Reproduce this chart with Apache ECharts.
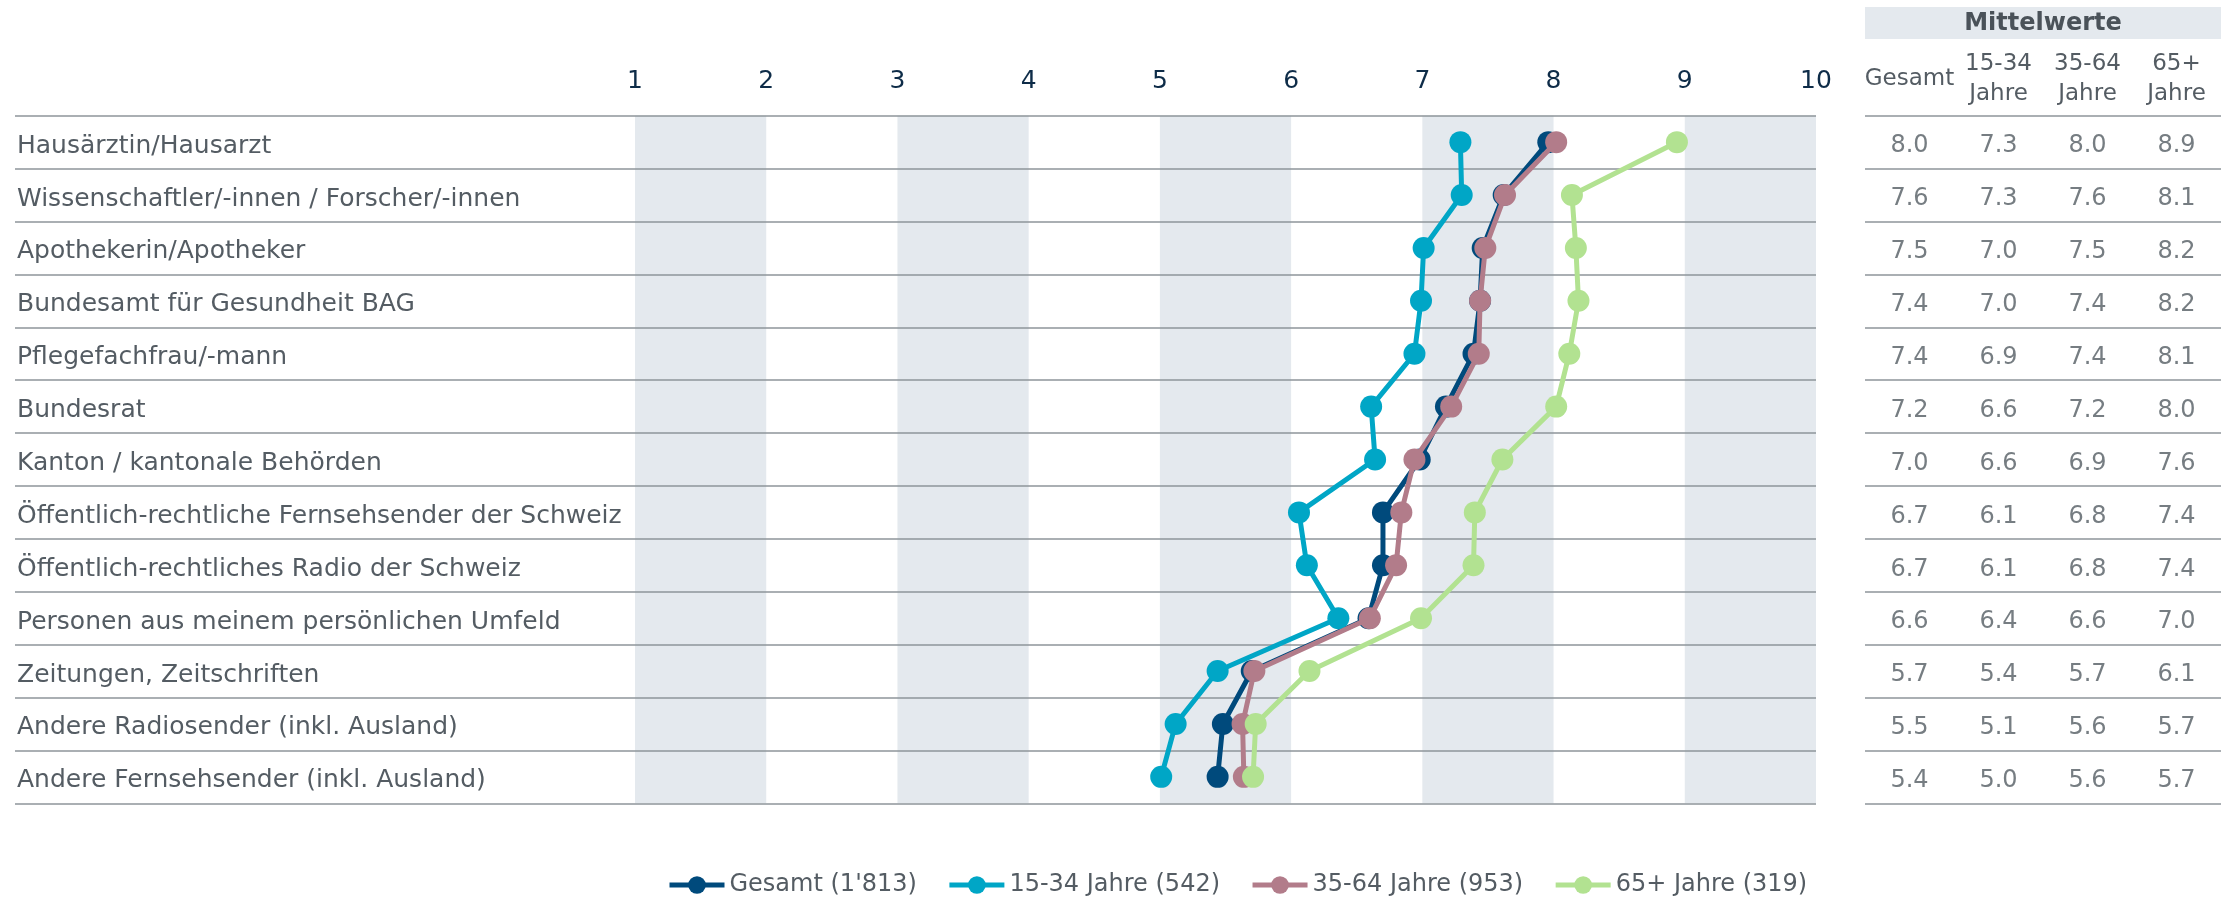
<!DOCTYPE html>
<html>
<head>
<meta charset="utf-8">
<script src="https://cdn.jsdelivr.net/npm/echarts@6/dist/echarts.min.js"></script>
<style>
html,body{margin:0;padding:0;background:#fff;}
#c{width:2226px;height:898px;}
</style>
</head>
<body>
<div id="c"></div>
<script>
var categories = [
  'Hausärztin/Hausarzt',
  'Wissenschaftler/-innen / Forscher/-innen',
  'Apothekerin/Apotheker',
  'Bundesamt für Gesundheit BAG',
  'Pflegefachfrau/-mann',
  'Bundesrat',
  'Kanton / kantonale Behörden',
  'Öffentlich-rechtliche Fernsehsender der Schweiz',
  'Öffentlich-rechtliches Radio der Schweiz',
  'Personen aus meinem persönlichen Umfeld',
  'Zeitungen, Zeitschriften',
  'Andere Radiosender (inkl. Ausland)',
  'Andere Fernsehsender (inkl. Ausland)'
];
var seriesNames = ["Gesamt (1'813)", '15-34 Jahre (542)', '35-64 Jahre (953)', '65+ Jahre (319)'];
var gesamt = [7.96, 7.62, 7.46, 7.44, 7.39, 7.18, 6.98, 6.70, 6.70, 6.59, 5.70, 5.48, 5.44];
var jahre1534 = [7.29, 7.30, 7.01, 6.99, 6.94, 6.61, 6.64, 6.06, 6.12, 6.36, 5.44, 5.12, 5.01];
var jahre3564 = [8.02, 7.63, 7.48, 7.44, 7.43, 7.22, 6.94, 6.84, 6.80, 6.60, 5.72, 5.63, 5.64];
var jahre65 = [8.94, 8.14, 8.17, 8.19, 8.12, 8.02, 7.61, 7.40, 7.39, 6.99, 6.14, 5.73, 5.71];
var tableColumns = ['Gesamt', '15-34\nJahre', '35-64\nJahre', '65+\nJahre'];
var tableTitle = 'Mittelwerte';

var colors = ['#004a7c', '#00a6c6', '#b27c8a', '#b2e291'];
var FONT = "'DejaVu Sans', sans-serif";
var TXT = '#545c63';
var LINE = '#8e949a';

var top0 = 115.7, h0 = 687.6;
var allSeries = [gesamt, jahre1534, jahre3564, jahre65];

var lineSeries = allSeries.map(function (vals, i) {
  return {
    name: seriesNames[i],
    type: 'line',
    xAxisIndex: 1, yAxisIndex: 1,
    data: vals.map(function (v, r) { return [v, categories[r]]; }),
    symbol: 'circle',
    symbolSize: 22,
    lineStyle: { width: 5, color: colors[i] },
    itemStyle: { color: colors[i] },
    z: 3 + i,
    animation: false
  };
});

var tableData = [];
allSeries.forEach(function (vals, c) {
  vals.forEach(function (v, r) {
    tableData.push([tableColumns[c], categories[r], v]);
  });
});

var chart = echarts.init(document.getElementById('c'), null, { renderer: 'canvas' });
chart.setOption({
  animation: false,
  backgroundColor: '#fff',
  textStyle: { fontFamily: FONT },
  grid: [
    { left: 15, top: top0, width: 1801, height: h0, outerBoundsMode: 'none', containLabel: false },
    { left: 635, top: top0, width: 1181, height: h0, outerBoundsMode: 'none', containLabel: false },
    { left: 1865, top: top0, width: 356, height: h0, outerBoundsMode: 'none', containLabel: false }
  ],
  xAxis: [
    { gridIndex: 0, type: 'value', show: false, min: 0, max: 1 },
    {
      gridIndex: 1, type: 'value', position: 'top', min: 1, max: 10, interval: 1, z: 0,
      axisLine: { show: false }, axisTick: { show: false },
      splitLine: { show: false },
      splitArea: { show: true, areaStyle: { color: ['#e4e9ee', 'rgba(255,255,255,0)'] } },
      axisLabel: { color: '#0e2c48', fontSize: 25, margin: 22, fontFamily: FONT }
    },
    {
      gridIndex: 2, type: 'category', position: 'top', data: tableColumns,
      axisLine: { show: false }, axisTick: { show: false }, splitLine: { show: false },
      axisLabel: { color: TXT, fontSize: 23, lineHeight: 30, margin: 37, verticalAlign: 'middle', fontFamily: FONT, interval: 0 }
    }
  ],
  yAxis: [
    {
      gridIndex: 0, type: 'category', data: categories, inverse: true, z: 1,
      axisLine: { show: false }, axisTick: { show: false },
      splitLine: { show: true, lineStyle: { color: LINE, width: 1.5 } },
      axisLabel: { inside: true, margin: 2, color: TXT, fontSize: 25, fontFamily: FONT, interval: 0, verticalAlign: 'top', lineHeight: 8 }
    },
    {
      gridIndex: 1, type: 'category', data: categories, inverse: true, show: false
    },
    {
      gridIndex: 2, type: 'category', data: categories, inverse: true, z: 1,
      axisLine: { show: false }, axisTick: { show: false }, axisLabel: { show: false },
      splitLine: { show: true, lineStyle: { color: LINE, width: 1.5 } }
    }
  ],
  legend: {
    data: seriesNames,
    left: 667, top: 873, padding: 0,
    itemWidth: 55, itemHeight: 22, itemGap: 30,
    lineStyle: { width: 5 },
    textStyle: { color: TXT, fontSize: 24, fontFamily: FONT }
  },
  graphic: [
    { type: 'rect', shape: { x: 1865, y: 7, width: 356, height: 32 }, style: { fill: '#e4e9ee' }, silent: true },
    { type: 'text', x: 2043, y: 24, style: { text: tableTitle, fill: '#4a5259', font: "bold 24px 'DejaVu Sans', sans-serif", align: 'center', verticalAlign: 'middle' }, silent: true }
  ],
  series: lineSeries.concat([{
    type: 'scatter',
    xAxisIndex: 2, yAxisIndex: 2,
    symbolSize: 0,
    data: tableData,
    label: {
      show: true, position: 'inside', color: TXT, fontSize: 24, fontFamily: FONT,
      verticalAlign: 'top', lineHeight: 8,
      formatter: function (p) { return p.value[2].toFixed(1); }
    },
    silent: true,
    animation: false
  }])
});
</script>
</body>
</html>
